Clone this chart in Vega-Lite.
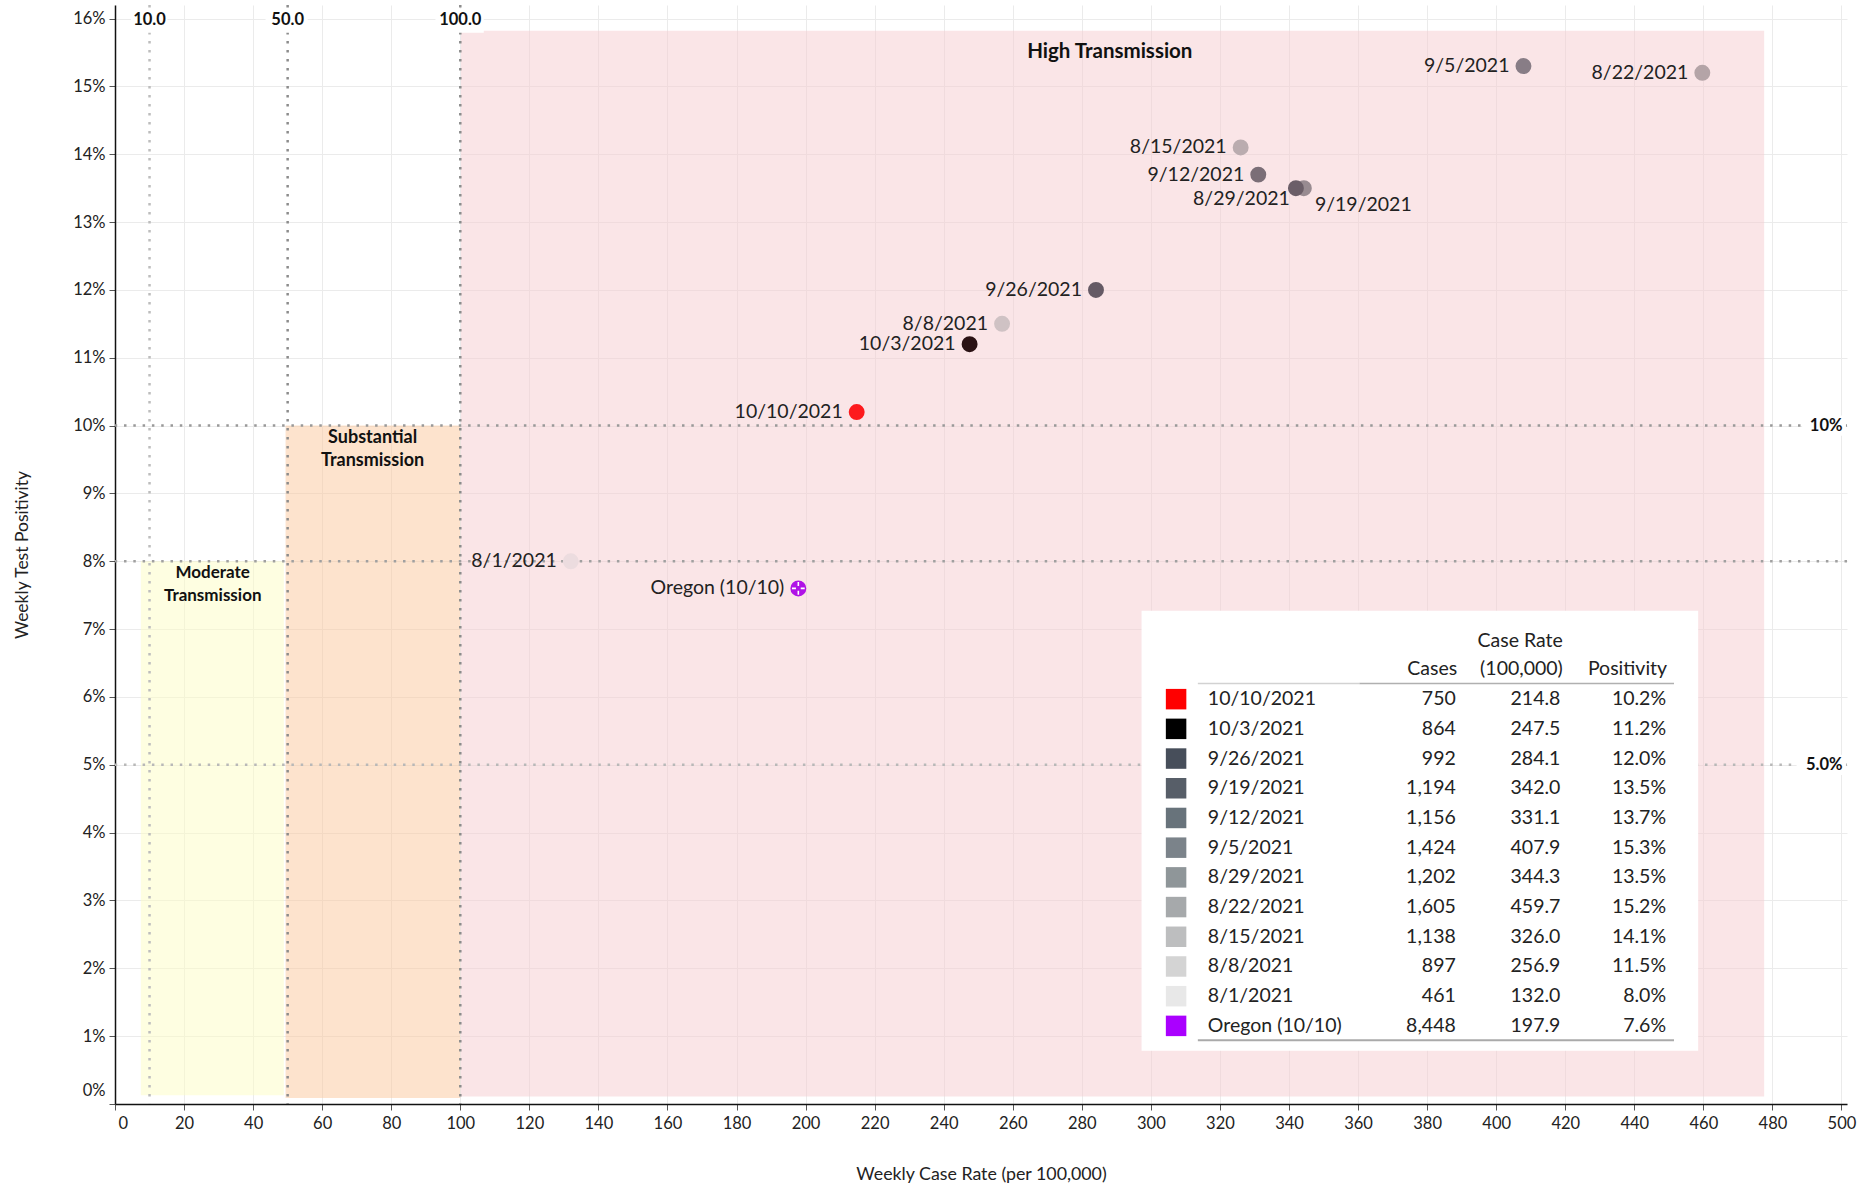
{
  "$schema": "https://vega.github.io/schema/vega-lite/v6.json",
  "width": 1732,
  "height": 1099,
  "autosize": {"type": "none"},
  "padding": {"left": 115, "top": 5, "right": 17, "bottom": 84},
  "background": "white",
  "config": {
    "font": "Lato",
    "view": {"stroke": null},
    "text": {"font": "Lato", "fontSize": 19.5, "color": "#222222"},
    "axis": {"labelFont": "Lato", "titleFont": "Lato"}
  },
  "datasets": {
    "weeks": [
      {"label": "10/10/2021", "geo": "county", "date": "2021-10-10", "cases": 750, "rate": 214.8, "pos": 0.102},
      {"label": "10/3/2021", "geo": "county", "date": "2021-10-03", "cases": 864, "rate": 247.5, "pos": 0.112},
      {"label": "9/26/2021", "geo": "county", "date": "2021-09-26", "cases": 992, "rate": 284.1, "pos": 0.120},
      {"label": "9/19/2021", "geo": "county", "date": "2021-09-19", "cases": 1194, "rate": 342.0, "pos": 0.135},
      {"label": "9/12/2021", "geo": "county", "date": "2021-09-12", "cases": 1156, "rate": 331.1, "pos": 0.137},
      {"label": "9/5/2021", "geo": "county", "date": "2021-09-05", "cases": 1424, "rate": 407.9, "pos": 0.153},
      {"label": "8/29/2021", "geo": "county", "date": "2021-08-29", "cases": 1202, "rate": 344.3, "pos": 0.135},
      {"label": "8/22/2021", "geo": "county", "date": "2021-08-22", "cases": 1605, "rate": 459.7, "pos": 0.152},
      {"label": "8/15/2021", "geo": "county", "date": "2021-08-15", "cases": 1138, "rate": 326.0, "pos": 0.141},
      {"label": "8/8/2021", "geo": "county", "date": "2021-08-08", "cases": 897, "rate": 256.9, "pos": 0.115},
      {"label": "8/1/2021", "geo": "county", "date": "2021-08-01", "cases": 461, "rate": 132.0, "pos": 0.080},
      {"label": "Oregon (10/10)", "geo": "state", "date": "2021-10-10", "cases": 8448, "rate": 197.9, "pos": 0.076}
    ],
    "zones": [
      {"zone": "Moderate", "x0": 7.5, "x1": 48.9, "y0": 0.0013, "y1": 0.08},
      {"zone": "Substantial", "x0": 49.4, "x1": 100, "y0": 0.0009, "y1": 0.1},
      {"zone": "High", "x0": 100.2, "x1": 477.6, "y0": 0.0011, "y1": 0.1582}
    ]
  },
  "layer": [
    {
      "layer": [
        {
          "data": {"name": "zones"},
          "mark": {"type": "rect", "opacity": 0.5},
          "encoding": {
            "x": {
              "field": "x0", "type": "quantitative",
              "scale": {"domain": [0, 501.6], "nice": false, "zero": false},
              "title": "Weekly Case Rate (per 100,000)",
              "axis": {
                "values": [0, 20, 40, 60, 80, 100, 120, 140, 160, 180, 200, 220, 240, 260, 280, 300, 320, 340, 360, 380, 400, 420, 440, 460, 480, 500],
                "grid": true, "gridColor": "#ebebeb", "gridWidth": 1,
                "domainColor": "#111111", "domainWidth": 1.5,
                "tickColor": "#555555", "tickSize": 6,
                "labelFontSize": 16.5, "labelColor": "#222222", "labelPadding": 5, "labelFlush": true, "labelFlushOffset": -3,
                "titleFontSize": 17.8, "titleFontWeight": "normal", "titleColor": "#222222", "titlePadding": 34
              }
            },
            "x2": {"field": "x1"},
            "y": {
              "field": "y0", "type": "quantitative",
              "scale": {"domain": [0, 0.162], "nice": false, "zero": false},
              "title": "Weekly Test Positivity",
              "axis": {
                "values": [0, 0.01, 0.02, 0.03, 0.04, 0.05, 0.06, 0.07, 0.08, 0.09, 0.1, 0.11, 0.12, 0.13, 0.14, 0.15, 0.16],
                "format": ".0%",
                "grid": true, "gridColor": "#ebebeb", "gridWidth": 1,
                "domainColor": "#111111", "domainWidth": 1.5,
                "tickColor": "#555555", "tickSize": 6,
                "labelFontSize": 16.5, "labelColor": "#222222", "labelPadding": 4, "labelFlush": true, "labelFlushOffset": -6,
                "titleFontSize": 17.5, "titleFontWeight": "normal", "titleColor": "#222222", "titlePadding": 41
              }
            },
            "y2": {"field": "y1"},
            "fill": {
              "field": "zone", "type": "nominal",
              "scale": {"domain": ["Moderate", "Substantial", "High"], "range": ["#fdfdc3", "#fbc79b", "#f5cbcf"]},
              "legend": null
            }
          }
        },
        {
          "data": {"values": [{}]},
          "mark": {"type": "rule", "color": "#bdbdbd", "strokeWidth": 2.5, "strokeDash": [2.5, 6.5]},
          "encoding": {"x": {"datum": 10, "type": "quantitative"}}
        },
        {
          "data": {"values": [{}]},
          "mark": {"type": "rule", "color": "#8c8c8c", "strokeWidth": 2.5, "strokeDash": [2.5, 6.5]},
          "encoding": {"x": {"datum": 50, "type": "quantitative"}}
        },
        {
          "data": {"values": [{}]},
          "mark": {"type": "rule", "color": "#8c8c8c", "strokeWidth": 2.5, "strokeDash": [2.5, 6.5]},
          "encoding": {"x": {"datum": 100, "type": "quantitative"}}
        },
        {
          "data": {"values": [{}]},
          "mark": {"type": "rule", "color": "#999999", "strokeWidth": 2.5, "strokeDash": [2.5, 6.8]},
          "encoding": {"y": {"datum": 0.1, "type": "quantitative"}}
        },
        {
          "data": {"values": [{}]},
          "mark": {"type": "rule", "color": "#a0a0a0", "strokeWidth": 2.5, "strokeDash": [2.5, 6.8]},
          "encoding": {"y": {"datum": 0.08, "type": "quantitative"}}
        },
        {
          "data": {"values": [{}]},
          "mark": {"type": "rule", "color": "#b8b8b8", "strokeWidth": 2.5, "strokeDash": [2.5, 6.8]},
          "encoding": {"y": {"datum": 0.05, "type": "quantitative"}}
        },
        {
          "data": {"values": [{"a": 4.6, "b": 15.2}, {"a": 43.6, "b": 55.8}, {"a": 92.8, "b": 106.8}]},
          "mark": {"type": "rect", "fill": "white"},
          "encoding": {
            "x": {"field": "a", "type": "quantitative"},
            "x2": {"field": "b"},
            "y": {"datum": 0.1579, "type": "quantitative"},
            "y2": {"datum": 0.1615}
          }
        },
        {
          "data": {"values": [{"a": 488.6, "b": 501.3, "c": 0.0985, "d": 0.1015}, {"a": 487.0, "b": 501.3, "c": 0.0485, "d": 0.0515}]},
          "mark": {"type": "rect", "fill": "white"},
          "encoding": {
            "x": {"field": "a", "type": "quantitative"},
            "x2": {"field": "b"},
            "y": {"field": "c", "type": "quantitative"},
            "y2": {"field": "d"}
          }
        },
        {
          "data": {"values": [{"v": 10, "t": "10.0"}, {"v": 50, "t": "50.0"}, {"v": 100, "t": "100.0"}]},
          "mark": {"type": "text", "fontWeight": "bold", "fontSize": 16.5, "color": "#111111", "baseline": "middle", "align": "center"},
          "encoding": {
            "x": {"field": "v", "type": "quantitative"},
            "y": {"datum": 0.1598, "type": "quantitative"},
            "text": {"field": "t"}
          }
        },
        {
          "data": {"values": [{"v": 0.1, "t": "10%"}, {"v": 0.05, "t": "5.0%"}]},
          "mark": {"type": "text", "fontWeight": "bold", "fontSize": 16.5, "color": "#111111", "baseline": "middle", "align": "right"},
          "encoding": {
            "x": {"datum": 500.3, "type": "quantitative"},
            "y": {"field": "v", "type": "quantitative"},
            "text": {"field": "t"}
          }
        },
        {
          "data": {"values": [{}]},
          "mark": {"type": "text", "fontWeight": "bold", "fontSize": 20.5, "color": "#111111", "baseline": "middle", "align": "center"},
          "encoding": {
            "x": {"datum": 288.1, "type": "quantitative"},
            "y": {"datum": 0.155, "type": "quantitative"},
            "text": {"value": "High Transmission"}
          }
        },
        {
          "data": {"values": [{}]},
          "mark": {"type": "text", "fontWeight": "bold", "fontSize": 18, "lineHeight": 23.5, "color": "#111111", "baseline": "middle", "align": "center"},
          "encoding": {
            "x": {"datum": 74.6, "type": "quantitative"},
            "y": {"datum": 0.0982, "type": "quantitative"},
            "text": {"value": ["Substantial", "Transmission"]}
          }
        },
        {
          "data": {"values": [{}]},
          "mark": {"type": "text", "fontWeight": "bold", "fontSize": 17, "lineHeight": 22.5, "color": "#111111", "baseline": "middle", "align": "center"},
          "encoding": {
            "x": {"datum": 28.3, "type": "quantitative"},
            "y": {"datum": 0.0782, "type": "quantitative"},
            "text": {"value": ["Moderate", "Transmission"]}
          }
        },
        {
          "data": {"name": "weeks"},
          "transform": [{"filter": "datum.geo === 'county'"}],
          "mark": {"type": "circle", "size": 254, "opacity": 1},
          "encoding": {
            "x": {"field": "rate", "type": "quantitative", "title": "Weekly Case Rate (per 100,000)"},
            "y": {"field": "pos", "type": "quantitative", "title": "Weekly Test Positivity"},
            "color": {
              "field": "label", "type": "nominal",
              "scale": {
                "domain": ["10/10/2021", "10/3/2021", "9/26/2021", "9/19/2021", "9/12/2021", "9/5/2021", "8/29/2021", "8/22/2021", "8/15/2021", "8/8/2021", "8/1/2021"],
                "range": ["#fd1a1d", "#2a1214", "#655a65", "#6b5e68", "#7b6e77", "#887d86", "#988b91", "#b4a4a7", "#baacaf", "#cfc2c4", "#ecdcdf"]
              },
              "legend": null
            },
            "order": {"field": "date", "type": "temporal"}
          }
        },
        {
          "data": {"name": "weeks"},
          "transform": [{"filter": "datum.geo === 'state'"}],
          "mark": {"type": "circle", "size": 254, "opacity": 1, "color": "#b012e6"},
          "encoding": {
            "x": {"field": "rate", "type": "quantitative", "title": "Weekly Case Rate (per 100,000)"},
            "y": {"field": "pos", "type": "quantitative", "title": "Weekly Test Positivity"}
          }
        },
        {
          "data": {"name": "weeks"},
          "transform": [{"filter": "datum.geo === 'state'"}],
          "mark": {"type": "point", "size": 254, "filled": false, "stroke": "white", "strokeWidth": 1.6, "opacity": 1, "shape": "M-0.8,0L-0.3,0M0.3,0L0.8,0M0,-0.8L0,-0.3M0,0.3L0,0.8"},
          "encoding": {
            "x": {"field": "rate", "type": "quantitative", "title": "Weekly Case Rate (per 100,000)"},
            "y": {"field": "pos", "type": "quantitative", "title": "Weekly Test Positivity"}
          }
        },
        {
          "data": {"name": "weeks"},
          "transform": [{"filter": "datum.label !== '8/29/2021' && datum.label !== '9/19/2021'"}],
          "mark": {"type": "text", "align": "right", "baseline": "middle", "dx": -14},
          "encoding": {
            "x": {"field": "rate", "type": "quantitative", "title": "Weekly Case Rate (per 100,000)"},
            "y": {"field": "pos", "type": "quantitative", "title": "Weekly Test Positivity"},
            "text": {"field": "label"}
          }
        },
        {
          "data": {"name": "weeks"},
          "transform": [{"filter": "datum.label === '8/29/2021'"}],
          "mark": {"type": "text", "align": "right", "baseline": "middle", "dx": -14, "dy": 11},
          "encoding": {
            "x": {"field": "rate", "type": "quantitative", "title": "Weekly Case Rate (per 100,000)"},
            "y": {"field": "pos", "type": "quantitative", "title": "Weekly Test Positivity"},
            "text": {"field": "label"}
          }
        },
        {
          "data": {"name": "weeks"},
          "transform": [{"filter": "datum.label === '9/19/2021'"}],
          "mark": {"type": "text", "align": "left", "baseline": "middle", "dx": 19, "dy": 17},
          "encoding": {
            "x": {"field": "rate", "type": "quantitative", "title": "Weekly Case Rate (per 100,000)"},
            "y": {"field": "pos", "type": "quantitative", "title": "Weekly Test Positivity"},
            "text": {"field": "label"}
          }
        }
      ]
    },
    {
      "layer": [
        {
          "data": {"values": [{}]},
          "mark": {"type": "rect", "fill": "white"},
          "encoding": {
            "x": {"datum": 297.3, "type": "quantitative"},
            "x2": {"datum": 458.5},
            "y": {"datum": -1.98, "type": "quantitative", "scale": {"domain": [-22.37, 14.63], "reverse": true, "nice": false, "zero": false}, "axis": null},
            "y2": {"datum": 12.84}
          }
        },
        {
          "data": {"name": "weeks"},
          "transform": [{"window": [{"op": "row_number", "as": "row"}]}],
          "mark": {"type": "square", "size": 420, "opacity": 1},
          "encoding": {
            "x": {"datum": 307.3, "type": "quantitative"},
            "y": {"field": "row", "type": "quantitative", "scale": {"domain": [-22.37, 14.63], "reverse": true, "nice": false, "zero": false}, "axis": null},
            "color": {
              "field": "label", "type": "nominal",
              "scale": {
                "domain": ["10/10/2021", "10/3/2021", "9/26/2021", "9/19/2021", "9/12/2021", "9/5/2021", "8/29/2021", "8/22/2021", "8/15/2021", "8/8/2021", "8/1/2021", "Oregon (10/10)"],
                "range": ["#ff0000", "#000000", "#474e5a", "#575e68", "#68737b", "#7b838a", "#8f9699", "#a6a9ab", "#bdbebf", "#d4d4d4", "#e8e8e8", "#aa00ff"]
              },
              "legend": null
            }
          }
        },
        {
          "data": {"name": "weeks"},
          "transform": [{"window": [{"op": "row_number", "as": "row"}]}],
          "mark": {"type": "text", "align": "left", "baseline": "middle"},
          "encoding": {
            "x": {"datum": 316.5, "type": "quantitative"},
            "y": {"field": "row", "type": "quantitative", "scale": {"domain": [-22.37, 14.63], "reverse": true, "nice": false, "zero": false}, "axis": null},
            "text": {"field": "label"}
          }
        },
        {
          "data": {"name": "weeks"},
          "transform": [{"window": [{"op": "row_number", "as": "row"}]}],
          "mark": {"type": "text", "align": "right", "baseline": "middle"},
          "encoding": {
            "x": {"datum": 388.3, "type": "quantitative"},
            "y": {"field": "row", "type": "quantitative", "scale": {"domain": [-22.37, 14.63], "reverse": true, "nice": false, "zero": false}, "axis": null},
            "text": {"field": "cases", "type": "quantitative", "format": ","}
          }
        },
        {
          "data": {"name": "weeks"},
          "transform": [{"window": [{"op": "row_number", "as": "row"}]}],
          "mark": {"type": "text", "align": "right", "baseline": "middle"},
          "encoding": {
            "x": {"datum": 418.6, "type": "quantitative"},
            "y": {"field": "row", "type": "quantitative", "scale": {"domain": [-22.37, 14.63], "reverse": true, "nice": false, "zero": false}, "axis": null},
            "text": {"field": "rate", "type": "quantitative", "format": ".1f"}
          }
        },
        {
          "data": {"name": "weeks"},
          "transform": [{"window": [{"op": "row_number", "as": "row"}]}],
          "mark": {"type": "text", "align": "right", "baseline": "middle"},
          "encoding": {
            "x": {"datum": 449.2, "type": "quantitative"},
            "y": {"field": "row", "type": "quantitative", "scale": {"domain": [-22.37, 14.63], "reverse": true, "nice": false, "zero": false}, "axis": null},
            "text": {"field": "pos", "type": "quantitative", "format": ".1%"}
          }
        },
        {
          "data": {"values": [{"h": "Cases", "c": 388.7, "r": 0}, {"h": "(100,000)", "c": 419.3, "r": 0}, {"h": "Case Rate", "c": 419.3, "r": -0.95}, {"h": "Positivity", "c": 449.5, "r": 0}]},
          "mark": {"type": "text", "align": "right", "baseline": "middle"},
          "encoding": {
            "x": {"field": "c", "type": "quantitative"},
            "y": {"field": "r", "type": "quantitative", "scale": {"domain": [-22.37, 14.63], "reverse": true, "nice": false, "zero": false}, "axis": null},
            "text": {"field": "h"}
          }
        },
        {
          "data": {"values": [{}]},
          "mark": {"type": "rule", "color": "#d2d2d2", "strokeWidth": 1.5},
          "encoding": {
            "x": {"datum": 313.6, "type": "quantitative"},
            "x2": {"datum": 360.4},
            "y": {"datum": 0.47, "type": "quantitative", "scale": {"domain": [-22.37, 14.63], "reverse": true, "nice": false, "zero": false}, "axis": null}
          }
        },
        {
          "data": {"values": [{}]},
          "mark": {"type": "rule", "color": "#b0b0b0", "strokeWidth": 1.5},
          "encoding": {
            "x": {"datum": 360.4, "type": "quantitative"},
            "x2": {"datum": 451.5},
            "y": {"datum": 0.47, "type": "quantitative", "scale": {"domain": [-22.37, 14.63], "reverse": true, "nice": false, "zero": false}, "axis": null}
          }
        },
        {
          "data": {"values": [{}]},
          "mark": {"type": "rule", "color": "#aaaaaa", "strokeWidth": 2},
          "encoding": {
            "x": {"datum": 313.6, "type": "quantitative"},
            "x2": {"datum": 451.5},
            "y": {"datum": 12.48, "type": "quantitative", "scale": {"domain": [-22.37, 14.63], "reverse": true, "nice": false, "zero": false}, "axis": null}
          }
        }
      ]
    }
  ],
  "resolve": {"scale": {"y": "independent", "color": "independent"}}
}
